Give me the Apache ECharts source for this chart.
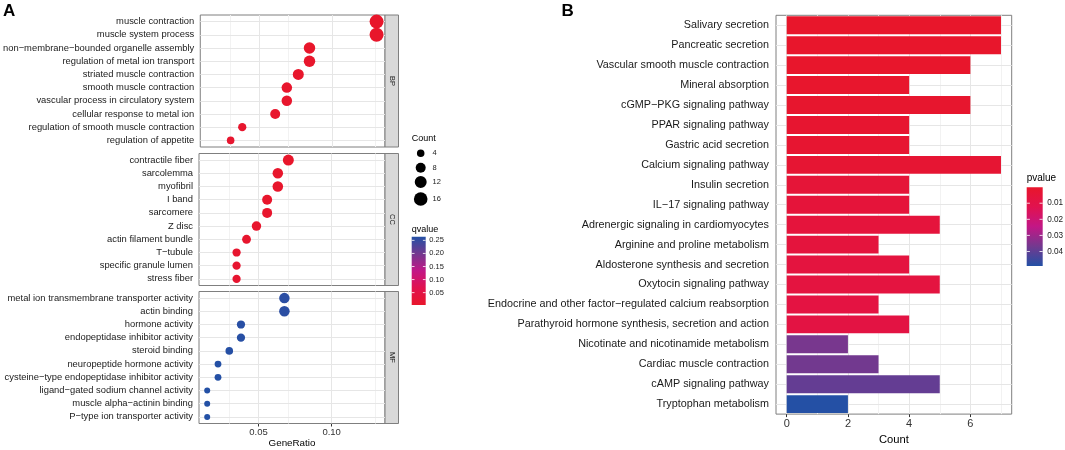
<!DOCTYPE html>
<html><head><meta charset="utf-8">
<script src="https://cdn.jsdelivr.net/npm/echarts@6/dist/echarts.min.js"></script>
<style>html,body{margin:0;padding:0;background:#fff}#c{width:1065px;height:450px}</style>
</head><body><div id="c"></div>
<script>
// ---------- Panel A data ----------
const bpTerms = ['muscle contraction','muscle system process','non−membrane−bounded organelle assembly','regulation of metal ion transport','striated muscle contraction','smooth muscle contraction','vascular process in circulatory system','cellular response to metal ion','regulation of smooth muscle contraction','regulation of appetite'];
const bpRatio = [0.1307,0.1307,0.0845,0.0845,0.0768,0.0689,0.0689,0.0609,0.0382,0.0302];
const bpCount = [17,17,11,11,10,9,9,8,5,4];
const bpQ = [0.0027,0.0027,0.0035,0.0041,0.0048,0.0055,0.0062,0.0071,0.0089,0.0104];

const ccTerms = ['contractile fiber','sarcolemma','myofibril','I band','sarcomere','Z disc','actin filament bundle','T−tubule','specific granule lumen','stress fiber'];
const ccRatio = [0.0704,0.0632,0.0632,0.0559,0.0559,0.0486,0.0418,0.0350,0.0350,0.0350];
const ccCount = [10,9,9,8,8,7,6,5,5,5];
const ccQ = [0.0031,0.0038,0.0042,0.0050,0.0057,0.0066,0.0078,0.0095,0.0113,0.0120];

const mfTerms = ['metal ion transmembrane transporter activity','actin binding','hormone activity','endopeptidase inhibitor activity','steroid binding','neuropeptide hormone activity','cysteine−type endopeptidase inhibitor activity','ligand−gated sodium channel activity','muscle alpha−actinin binding','P−type ion transporter activity'];
const mfRatio = [0.0677,0.0677,0.0380,0.0380,0.0300,0.0223,0.0223,0.0149,0.0149,0.0149];
const mfCount = [9,9,5,5,4,3,3,2,2,2];
const mfQ = [0.2578,0.2578,0.2601,0.2610,0.2622,0.2630,0.2635,0.2640,0.2640,0.2640];

const facetNames = ['BP','CC','MF'];
const aXTicks = [0.05, 0.10];
const aXMinor = [0.025, 0.075, 0.125];
const countLegend = [4, 8, 12, 16];
const qLegend = [0.05, 0.10, 0.15, 0.20, 0.25];

// ---------- Panel B data ----------
const bTerms = ['Salivary secretion','Pancreatic secretion','Vascular smooth muscle contraction','Mineral absorption','cGMP−PKG signaling pathway','PPAR signaling pathway','Gastric acid secretion','Calcium signaling pathway','Insulin secretion','IL−17 signaling pathway','Adrenergic signaling in cardiomyocytes','Arginine and proline metabolism','Aldosterone synthesis and secretion','Oxytocin signaling pathway','Endocrine and other factor−regulated calcium reabsorption','Parathyroid hormone synthesis, secretion and action','Nicotinate and nicotinamide metabolism','Cardiac muscle contraction','cAMP signaling pathway','Tryptophan metabolism'];
const bCount = [7,7,6,4,6,4,4,7,4,4,5,3,4,5,3,4,2,3,5,2];
const bP = [0.00012,0.0003,0.0005,0.0009,0.0012,0.0018,0.0022,0.0028,0.0045,0.0052,0.0058,0.0063,0.0068,0.0072,0.0078,0.0083,0.0360,0.0370,0.0390,0.0488];
const bXTicks = [0, 2, 4, 6];
const bXMinor = [1, 3, 5, 7];
const pLegend = [0.01, 0.02, 0.03, 0.04];

// ---------- styles ----------
const FONT = "'Liberation Sans', Arial, Helvetica, sans-serif";
const palette = ['#E8162B','#E1124F','#C21786','#73398F','#2350A5'];
const qMin = 0.0027, qMax = 0.264, pMin = 0.0001, pMax = 0.049;
const aXMin = 0.0093, aXMax = 0.1365;
const bXMin = -0.35, bXMax = 7.35;
const majorCol = '#e6e6e6', minorCol = '#f2f2f2', borderCol = '#7f7f7f', txtCol = '#1a1a1a';

function sizeOf(c){ const dmin=6, dmax=14, cmin=2, cmax=17; return Math.sqrt(dmin*dmin + (c-cmin)/(cmax-cmin)*(dmax*dmax-dmin*dmin)); }

const facets = [
  {terms:bpTerms, ratio:bpRatio, count:bpCount, q:bpQ},
  {terms:ccTerms, ratio:ccRatio, count:ccCount, q:ccQ},
  {terms:mfTerms, ratio:mfRatio, count:mfCount, q:mfQ}
];
const aLeft = 199, aWidth = 186, aTops = [15, 153.5, 291.5], aH = 132;
const bLeft = 776, bTop = 15.3, bWidth = 235.7, bH = 407.4;

const grids = [], xAxes = [], yAxes = [], series = [], graphics = [];

function vLines(major, minor){
  return major.map(v=>({xAxis:v, lineStyle:{color:majorCol,width:1,type:'solid'}}))
    .concat(minor.map(v=>({xAxis:v, lineStyle:{color:minorCol,width:1,type:'solid'}})));
}

facets.forEach((f,i)=>{
  const last = i===2;
  grids.push({left:aLeft, top:aTops[i], width:aWidth, height:aH, show:true, borderColor:borderCol, borderWidth:1, backgroundColor:'transparent', containLabel:false});
  xAxes.push({type:'value', gridIndex:i, min:aXMin, max:aXMax,
    axisLine:{show:false}, splitLine:{show:false},
    axisTick:{show:last, customValues:aXTicks, length:3, lineStyle:{color:'#333'}},
    axisLabel:{show:last, customValues:aXTicks, formatter:v=>v.toFixed(2), fontSize:9.5, color:'#333', margin:4, fontFamily:FONT},
    name: last?'GeneRatio':'', nameLocation:'middle', nameGap:15, nameTextStyle:{fontSize:9.8, color:'#000', fontFamily:FONT}});
  yAxes.push({type:'category', gridIndex:i, data:f.terms, inverse:true,
    axisLine:{show:false}, splitLine:{show:false},
    axisTick:{alignWithLabel:true, length:3, lineStyle:{color:'#333'}},
    axisLabel:{interval:0, fontSize:9.4, color:txtCol, margin:6, fontFamily:FONT}});
  series.push({type:'scatter', xAxisIndex:i, yAxisIndex:i, z:10,
    data:f.terms.map((t,j)=>[f.ratio[j], t, f.count[j], f.q[j]]),
    encode:{x:0, y:1},
    symbol:'circle', symbolSize:v=>sizeOf(v[2]), itemStyle:{opacity:1},
    emphasis:{disabled:true},
    markLine:{silent:true, symbol:'none', z:1, label:{show:false}, animation:false,
      data: vLines(aXTicks, aXMinor).concat(f.terms.map((t,j)=>({yAxis:j, lineStyle:{color:majorCol,width:1,type:'solid'}})))}
  });
  // strip
  graphics.push({type:'rect', shape:{x:385, y:aTops[i], width:13.5, height:aH}, style:{fill:'#d9d9d9', stroke:borderCol, lineWidth:1}});
  graphics.push({type:'text', x:391.9, y:aTops[i]+aH/2, rotation:-Math.PI/2,
    style:{text:facetNames[i], align:'center', verticalAlign:'middle', fontSize:7.5, fill:txtCol, fontFamily:FONT}});
});

// Panel B
grids.push({left:bLeft, top:bTop, width:bWidth, height:bH, show:true, borderColor:borderCol, borderWidth:1, backgroundColor:'transparent'});
xAxes.push({type:'value', gridIndex:3, min:bXMin, max:bXMax,
  axisLine:{show:false}, splitLine:{show:false},
  axisTick:{show:true, customValues:bXTicks, length:3, lineStyle:{color:'#333'}},
  axisLabel:{customValues:bXTicks, fontSize:11, color:'#333', margin:4, fontFamily:FONT},
  name:'Count', nameLocation:'middle', nameGap:15, nameTextStyle:{fontSize:11.2, color:'#000', fontFamily:FONT}});
yAxes.push({type:'category', gridIndex:3, data:bTerms, inverse:true,
  axisLine:{show:false}, splitLine:{show:false},
  axisTick:{alignWithLabel:true, length:3, lineStyle:{color:'#333'}},
  axisLabel:{interval:0, fontSize:10.8, color:txtCol, margin:7, fontFamily:FONT}});
series.push({type:'bar', xAxisIndex:3, yAxisIndex:3, z:10,
  data:bTerms.map((t,j)=>[bCount[j], t, bP[j]]),
  encode:{x:0, y:1}, barCategoryGap:'10%', emphasis:{disabled:true},
  markLine:{silent:true, symbol:'none', z:1, label:{show:false}, animation:false,
    data: vLines(bXTicks, bXMinor).concat(bTerms.map((t,j)=>({yAxis:j, lineStyle:{color:majorCol,width:1,type:'solid'}})))}
});

// Panel labels
graphics.push({type:'text', x:3, y:3, style:{text:'A', fontSize:17, fontWeight:'bold', fill:'#000', fontFamily:FONT}});
graphics.push({type:'text', x:561.5, y:3, style:{text:'B', fontSize:17, fontWeight:'bold', fill:'#000', fontFamily:FONT}});

// Count legend
graphics.push({type:'text', x:411.7, y:138.3, style:{text:'Count', fontSize:9, fill:'#000', verticalAlign:'middle', fontFamily:FONT}});
const cYs = [153.3, 167.7, 182, 199];
countLegend.forEach((c,k)=>{
  graphics.push({type:'circle', shape:{cx:420.7, cy:cYs[k], r:sizeOf(c)/2}, style:{fill:'#000'}});
  graphics.push({type:'text', x:432.5, y:cYs[k], style:{text:String(c), fontSize:7.5, fill:txtCol, verticalAlign:'middle', fontFamily:FONT}});
});

// qvalue colorbar
const qb = {x:411.7, y:236.7, w:14, h:68.3};
graphics.push({type:'text', x:411.7, y:229.3, style:{text:'qvalue', fontSize:9, fill:'#000', verticalAlign:'middle', fontFamily:FONT}});
graphics.push({type:'rect', shape:{x:qb.x, y:qb.y, width:qb.w, height:qb.h},
  style:{fill:new echarts.graphic.LinearGradient(0,0,0,1, palette.slice().reverse().map((c,k)=>({offset:k/(palette.length-1), color:c})))}});
qLegend.forEach(v=>{
  const yy = qb.y + qb.h - (v-qMin)/(qMax-qMin)*qb.h;
  graphics.push({type:'line', shape:{x1:qb.x, y1:yy, x2:qb.x+2.8, y2:yy}, style:{stroke:'#fff', lineWidth:0.8}});
  graphics.push({type:'line', shape:{x1:qb.x+qb.w-2.8, y1:yy, x2:qb.x+qb.w, y2:yy}, style:{stroke:'#fff', lineWidth:0.8}});
  graphics.push({type:'text', x:qb.x+qb.w+3.5, y:yy, style:{text:v.toFixed(2), fontSize:7.5, fill:txtCol, verticalAlign:'middle', fontFamily:FONT}});
});

// pvalue colorbar
const pb = {x:1026.7, y:187.3, w:16, h:78.7};
graphics.push({type:'text', x:1026.7, y:178.3, style:{text:'pvalue', fontSize:10, fill:'#000', verticalAlign:'middle', fontFamily:FONT}});
graphics.push({type:'rect', shape:{x:pb.x, y:pb.y, width:pb.w, height:pb.h},
  style:{fill:new echarts.graphic.LinearGradient(0,0,0,1, palette.map((c,k)=>({offset:k/(palette.length-1), color:c})))}});
pLegend.forEach(v=>{
  const yy = pb.y + (v-pMin)/(pMax-pMin)*pb.h;
  graphics.push({type:'line', shape:{x1:pb.x, y1:yy, x2:pb.x+3.2, y2:yy}, style:{stroke:'#fff', lineWidth:0.8}});
  graphics.push({type:'line', shape:{x1:pb.x+pb.w-3.2, y1:yy, x2:pb.x+pb.w, y2:yy}, style:{stroke:'#fff', lineWidth:0.8}});
  graphics.push({type:'text', x:pb.x+pb.w+4.5, y:yy, style:{text:v.toFixed(2), fontSize:8.2, fill:txtCol, verticalAlign:'middle', fontFamily:FONT}});
});

const chart = echarts.init(document.getElementById('c'));
chart.setOption({
  animation:false,
  backgroundColor:'#fff',
  textStyle:{fontFamily:FONT},
  grid:grids, xAxis:xAxes, yAxis:yAxes, series:series,
  visualMap:[
    {type:'continuous', show:false, seriesIndex:[0,1,2], dimension:3, min:qMin, max:qMax, inRange:{color:palette}},
    {type:'continuous', show:false, seriesIndex:[3], dimension:2, min:pMin, max:pMax, inRange:{color:palette}}
  ],
  graphic:graphics
});
</script>
</body></html>
